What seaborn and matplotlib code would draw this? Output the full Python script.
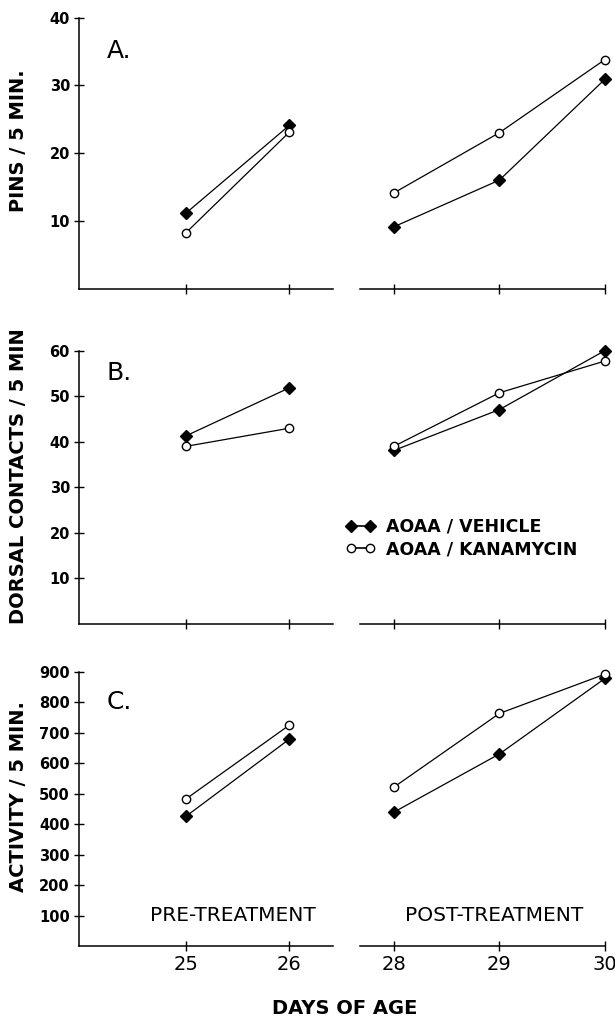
import matplotlib
matplotlib.use("Agg")
from matplotlib import pyplot as plt
from matplotlib.lines import Line2D
import numpy as np
import pandas as pd
import seaborn as sns

# data
days = [25, 26, 28, 29, 30]
segment = ['pre', 'pre', 'post', 'post', 'post']

pins_vehicle = [11.1, 24.1, 9.1, 16.0, 30.9]
pins_kanamycin = [8.2, 23.1, 14.1, 23.0, 33.8]

dorsal_vehicle = [41.3, 51.9, 38.1, 47.1, 60.1]
dorsal_kanamycin = [39.0, 43.0, 39.0, 50.8, 57.8]

activity_vehicle = [425, 679, 439, 630, 878]
activity_kanamycin = [482, 725, 521, 763, 892]

groups = ['AOAA / VEHICLE', 'AOAA / KANAMYCIN']
panel_letters = ['A.', 'B.', 'C.']
ylabels = ['PINS / 5 MIN.', 'DORSAL CONTACTS / 5 MIN', 'ACTIVITY / 5 MIN.']
ylims = [40, 60, 900]
yticks = [[10, 20, 30, 40], [10, 20, 30, 40, 50, 60],
          [100, 200, 300, 400, 500, 600, 700, 800, 900]]

rows = []
for panel, (veh, kan) in enumerate([(pins_vehicle, pins_kanamycin),
                                     (dorsal_vehicle, dorsal_kanamycin),
                                     (activity_vehicle, activity_kanamycin)]):
    for i in range(len(days)):
        rows.append([panel, groups[0], days[i], segment[i], veh[i]])
        rows.append([panel, groups[1], days[i], segment[i], kan[i]])
df = pd.DataFrame(rows, columns=['panel', 'group', 'day', 'segment', 'value'])

sns.set_style('ticks')
plt.rcParams['font.family'] = ['DejaVu Sans']
for k in ['text.color', 'axes.labelcolor', 'xtick.color', 'ytick.color',
          'axes.edgecolor']:
    plt.rcParams[k] = 'black'

fig = plt.figure(figsize=(6.15, 10.17), dpi=100)
W, H = 615.0, 1017.0

# panel boxes in pixels (top, bottom)
panel_px = [(17.5, 288.5), (351, 623.5), (671.7, 946)]
left_px = (79, 333)
right_px = (360, 605)

style = {
    groups[0]: dict(marker='D', markersize=6, mfc='black'),
    groups[1]: dict(marker='o', markersize=6, mfc='white'),
}

for p in range(3):
    top, bot = panel_px[p]
    y0 = 1 - bot / H
    h = (bot - top) / H
    axl = fig.add_axes([left_px[0] / W, y0, (left_px[1] - left_px[0]) / W, h])
    axr = fig.add_axes([right_px[0] / W, y0, (right_px[1] - right_px[0]) / W, h])

    for ax, seg in [(axl, 'pre'), (axr, 'post')]:
        sub = df[(df['panel'] == p) & (df['segment'] == seg)]
        for g in groups:
            sns.lineplot(data=sub[sub['group'] == g], x='day', y='value', ax=ax,
                         color='black', lw=0.9, mec='black', mew=1.0,
                         clip_on=False, legend=False, errorbar=None, **style[g])
        ax.set_ylim(0, ylims[p])
        ax.set_xlabel('')
        ax.set_ylabel('')
        ax.spines['top'].set_visible(False)
        ax.spines['right'].set_visible(False)
        ax.spines['bottom'].set_linewidth(1.1)
        ax.spines['left'].set_linewidth(1.1)
        ax.tick_params(axis='x', direction='inout', length=7, width=1, pad=3,
                       labelsize=14)
        ax.tick_params(axis='y', direction='inout', length=7, width=1, pad=3,
                       labelsize=10.5)

    axl.set_xlim(23.97, 26.42)
    axr.set_xlim(27.68, 30.0)
    axl.set_xticks(days[:2])
    axr.set_xticks(days[2:])
    axl.set_yticks(yticks[p])
    for t in axl.get_yticklabels():
        t.set_fontweight('bold')
    axr.spines['left'].set_visible(False)
    axr.set_yticks([])
    if p < 2:
        axl.set_xticklabels([])
        axr.set_xticklabels([])

    axl.text(0.11, 0.875 if p == 0 else 0.92 if p == 1 else 0.89,
             panel_letters[p], transform=axl.transAxes, fontsize=18,
             ha='left', va='center')

    if p == 2:
        axl.text(0.606, 0.11, 'PRE-TREATMENT', transform=axl.transAxes,
                 fontsize=14.5, ha='center', va='center')
        axr.text(0.549, 0.11, 'POST-TREATMENT', transform=axr.transAxes,
                 fontsize=14.5, ha='center', va='center')

# y labels
label_centers = [141, 476, 797]
for p in range(3):
    fig.text(19 / W, 1 - label_centers[p] / H, ylabels[p], rotation=90,
             fontsize=14, fontweight='bold', ha='center', va='center')

fig.text(345 / W, 1 - 1008 / H, 'DAYS OF AGE', fontsize=14,
         fontweight='bold', ha='center', va='center')

handles = [Line2D([], [], color='black', lw=1.2, marker='D', markersize=6,
                  mfc='black', mec='black'),
           Line2D([], [], color='black', lw=1.2, marker='o', markersize=6,
                  mfc='white', mec='black', mew=1.0)]
fig.legend(handles, groups, loc='center left',
           bbox_to_anchor=(346 / W, 1 - 538 / H), frameon=False, numpoints=2,
           handlelength=1.7, handletextpad=0.6, labelspacing=0.25,
           borderpad=0, borderaxespad=0,
           prop={'weight': 'bold', 'size': 12.5})

fig.savefig('out.png', dpi=100)
